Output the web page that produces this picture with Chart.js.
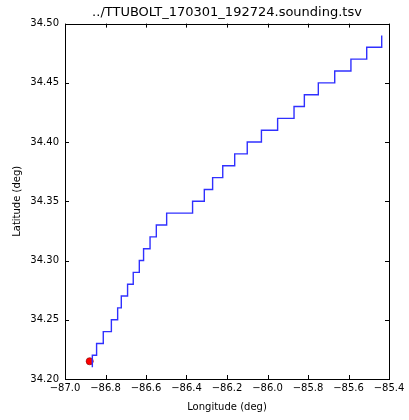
<!DOCTYPE html>
<html>
<head>
<meta charset="utf-8">
<script src="https://cdn.jsdelivr.net/npm/chart.js@4/dist/chart.umd.min.js"></script>
<style>
  html, body { margin: 0; padding: 0; background: #fff; }
  canvas { display: block; }
</style>
</head>
<body>
<canvas id="cTrack" width="409" height="420"></canvas>
<script>
// ── Sounding track (balloon drift) ───────────────────────────
// lon where each 0.01° latitude level ends (step track)
const trackLon = [
  -86.865, -86.844, -86.811, -86.771, -86.740, -86.722, -86.691, -86.663,
  -86.633, -86.612, -86.580, -86.549, -86.498, -86.370, -86.312, -86.271,
  -86.221, -86.162, -86.100, -86.030, -85.950, -85.869, -85.818, -85.749,
  -85.668, -85.588, -85.510, -85.436, -85.436,
];
const trackLat = [
  34.21, 34.22, 34.23, 34.24, 34.25, 34.26, 34.27, 34.28,
  34.29, 34.30, 34.31, 34.32, 34.33, 34.34, 34.35, 34.36,
  34.37, 34.38, 34.39, 34.40, 34.41, 34.42, 34.43, 34.44,
  34.45, 34.46, 34.47, 34.48, 34.49,
];
// launch site marker
const launchLon = [-86.878];
const launchLat = [34.215];

const xTicks = [-87.0, -86.8, -86.6, -86.4, -86.2, -86.0, -85.8, -85.6, -85.4];
const yTicks = [34.20, 34.25, 34.30, 34.35, 34.40, 34.45, 34.50];

const FONT = 'DejaVu Sans';

// matplotlib style: inward ticks on all four sides + full frame
const frameTicks = {
  id: 'frameTicks',
  afterDatasetsDraw(chart) {
    const { ctx, chartArea: a, scales: { x, y } } = chart;
    ctx.save();
    ctx.strokeStyle = '#000';
    ctx.lineWidth = 1;
    ctx.beginPath();
    xTicks.forEach(v => {
      const px = Math.round(x.getPixelForValue(v)) + 0.5;
      ctx.moveTo(px, a.bottom); ctx.lineTo(px, a.bottom - 4);
      ctx.moveTo(px, a.top);    ctx.lineTo(px, a.top + 4);
    });
    yTicks.forEach(v => {
      const py = Math.round(y.getPixelForValue(v)) + 0.5;
      ctx.moveTo(a.left, py);  ctx.lineTo(a.left + 4, py);
      ctx.moveTo(a.right, py); ctx.lineTo(a.right - 4, py);
    });
    ctx.stroke();
    ctx.strokeRect(Math.round(a.left) + 0.5, Math.round(a.top) + 0.5,
                   Math.round(a.right - a.left), Math.round(a.bottom - a.top));
    ctx.restore();
  }
};

new Chart(document.getElementById('cTrack').getContext('2d'), {
  type: 'scatter',
  data: {
    datasets: [
      {
        label: 'track',
        data: trackLon.map((lon, i) => ({ x: lon, y: trackLat[i] })),
        showLine: true, stepped: 'after',
        borderColor: '#3030ff', borderWidth: 1.4,
        pointRadius: 0, fill: false,
      },
      {
        label: 'launch',
        data: launchLon.map((lon, i) => ({ x: lon, y: launchLat[i] })),
        pointRadius: 3.6, pointBackgroundColor: '#ff0000',
        pointBorderColor: '#800000', pointBorderWidth: 0.6,
      },
    ]
  },
  options: {
    responsive: false, animation: false,
    layout: { padding: { top: 0, right: 20, left: 0, bottom: 7 } },
    plugins: {
      legend: { display: false },
      tooltip: { enabled: false },
      title: {
        display: true, fullSize: false,
        text: '../TTUBOLT_170301_192724.sounding.tsv',
        color: '#000', font: { family: FONT, size: 13, weight: 'normal' },
        padding: { top: 5, bottom: 3 },
      },
    },
    scales: {
      x: {
        type: 'linear', min: -87.0, max: -85.4,
        afterBuildTicks: s => { s.ticks = xTicks.map(v => ({ value: v })); },
        grid: { display: false, drawTicks: false },
        border: { display: false },
        ticks: {
          color: '#000', padding: 3, maxRotation: 0, autoSkip: false,
          font: { family: FONT, size: 10 },
          callback: v => v.toFixed(1).replace('-', '\u2212'),
        },
        title: {
          display: true, text: 'Longitude (deg)', color: '#000',
          font: { family: FONT, size: 10 }, padding: { top: 4, bottom: 0 },
        },
      },
      y: {
        type: 'linear', min: 34.20, max: 34.50,
        afterBuildTicks: s => { s.ticks = yTicks.map(v => ({ value: v })); },
        afterFit: s => { s.width = 65; },
        grid: { display: false, drawTicks: false },
        border: { display: false },
        ticks: {
          color: '#000', padding: 6, autoSkip: false,
          font: { family: FONT, size: 10 },
          callback: v => v.toFixed(2),
        },
        title: {
          display: true, text: 'Latitude (deg)', color: '#000',
          font: { family: FONT, size: 10 }, padding: { top: 11, bottom: 0 },
        },
      },
    },
  },
  plugins: [frameTicks],
});
</script>
</body>
</html>
